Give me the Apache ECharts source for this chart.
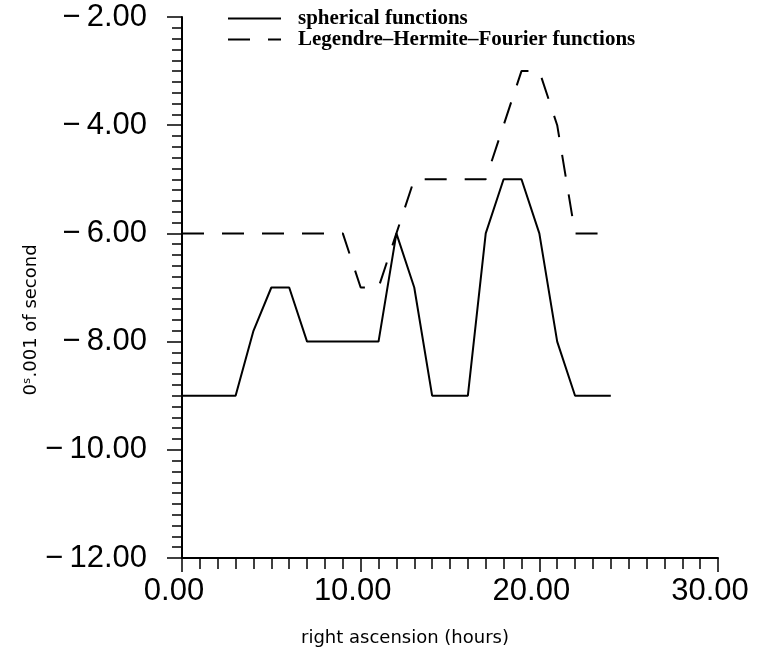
<!DOCTYPE html>
<html>
<head>
<meta charset="utf-8">
<script src="https://cdn.jsdelivr.net/npm/echarts@6/dist/echarts.min.js"></script>
<style>
  html, body { margin: 0; padding: 0; background: #fff; }
  #chart { width: 757px; height: 647px; }
</style>
</head>
<body>
<div id="chart"></div>
<script>
  // 横轴：赤经（小时）
  var hours = [0, 1, 2, 3, 4, 5, 6, 7, 8, 9, 10, 11, 12, 13, 14, 15, 16, 17, 18, 19, 20, 21, 22, 23, 24];
  // 球函数
  var spherical = [-9, -9, -9, -9, -7.8, -7, -7, -8, -8, -8, -8, -8, -6, -7, -9, -9, -9, -6, -5, -5, -6, -8, -9, -9, -9];
  // Legendre-Hermite-Fourier 函数
  var lhf = [-6, -6, -6, -6, -6, -6, -6, -6, -6, -6, -7, -7, -6, -5, -5, -5, -5, -5, -4, -3, -3, -4, -6, -6, -6];
  var xTicks = [0, 10, 20, 30];
  var yTicks = [-12, -10, -8, -6, -4, -2];

  function pairs(xs, ys) {
    return xs.map(function (x, i) { return [x, ys[i]]; });
  }

  var chart = echarts.init(document.getElementById("chart"));
  var labelFont = "'Liberation Sans', Arial, sans-serif";
  var titleFont = "'DejaVu Sans', sans-serif";

  chart.setOption({
    animation: false,
    backgroundColor: "#fff",
    grid: { left: 182, right: 39, top: 17, bottom: 89 },
    legend: {
      orient: "vertical",
      left: 222,
      top: 3,
      itemWidth: 53,
      itemHeight: 14,
      itemGap: 0,
      itemStyle: { opacity: 0 },
      data: ["spherical functions", "Legendre\u2013Hermite\u2013Fourier functions"],
      textStyle: {
        fontFamily: "'Liberation Serif', 'Times New Roman', serif",
        fontWeight: "bold",
        fontSize: 21,
        lineHeight: 19,
        color: "#000",
        padding: [0, 0, 0, 12],
      },
    },
    xAxis: {
      type: "value",
      min: xTicks[0],
      max: xTicks[xTicks.length - 1],
      interval: 10,
      splitLine: { show: false },
      axisLine: { lineStyle: { color: "#000", width: 2 } },
      axisTick: { inside: false, length: 14, lineStyle: { color: "#000", width: 1.5 } },
      minorTick: { show: true, splitNumber: 10, length: 11, lineStyle: { color: "#000", width: 1.5 } },
      axisLabel: {
        margin: 18,
        color: "#000",
        fontSize: 31,
        fontFamily: labelFont,
        padding: [0, 16, 0, 0],
        formatter: function (v) { return v.toFixed(2); },
      },
    },
    yAxis: {
      type: "value",
      min: yTicks[0],
      max: yTicks[yTicks.length - 1],
      interval: 2,
      splitLine: { show: false },
      axisLine: { onZero: false, lineStyle: { color: "#000", width: 2 } },
      axisTick: { inside: false, length: 15, lineStyle: { color: "#000", width: 1.5 } },
      minorTick: { show: true, splitNumber: 10, length: 10, lineStyle: { color: "#000", width: 1.5 } },
      axisLabel: {
        margin: 35,
        color: "#000",
        fontSize: 31,
        fontFamily: labelFont,
        formatter: function (v) { return "\u2212\u2009" + Math.abs(v).toFixed(2); },
      },
    },
    // 坐标轴标题
    graphic: [
      {
        type: "text",
        x: 405,
        y: 638,
        style: {
          text: "right ascension (hours)",
          font: "18px " + titleFont,
          fill: "#000",
          textAlign: "center",
          textVerticalAlign: "middle",
        },
      },
      {
        type: "text",
        x: 31,
        y: 320,
        rotation: Math.PI / 2,
        style: {
          text: "0\u02e2.001 of second",
          font: "18px " + titleFont,
          fill: "#000",
          textAlign: "center",
          textVerticalAlign: "middle",
        },
      },
    ],
    series: [
      {
        name: "spherical functions",
        type: "line",
        symbol: "none",
        data: pairs(hours, spherical),
        lineStyle: { color: "#000", width: 2 },
        itemStyle: { color: "#000" },
      },
      {
        name: "Legendre\u2013Hermite\u2013Fourier functions",
        type: "line",
        symbol: "none",
        data: pairs(hours, lhf),
        lineStyle: { color: "#000", width: 2, type: [22, 18] },
        itemStyle: { color: "#000" },
      },
    ],
  });
</script>
</body>
</html>
